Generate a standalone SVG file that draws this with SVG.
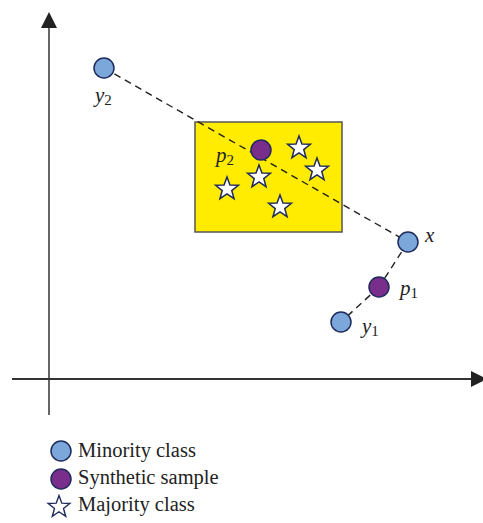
<svg xmlns="http://www.w3.org/2000/svg" width="483" height="523" viewBox="0 0 483 523">
<style>
.axis{stroke:#555;stroke-width:2;fill:none}
.dash{stroke:#222;stroke-width:1.4;stroke-dasharray:7,5;fill:none}
.min{fill:#7ba7da;stroke:#1f2b5c;stroke-width:1.5}
.syn{fill:#7a2e8c;stroke:#1f2b5c;stroke-width:1.5}
.star{fill:#fff;stroke:#1f2b5c;stroke-width:1.5;stroke-linejoin:miter}
.lbl{font-family:"Liberation Serif",serif;font-style:italic;font-size:21px;fill:#222}
.sub{font-style:normal;font-size:15px}
.leg{font-family:"Liberation Serif",serif;font-size:20.5px;fill:#222}
</style>
<defs>
<path id="st" d="M0,-12 L2.94,-4.05 L11.41,-3.71 L4.76,1.55 L7.05,9.71 L0,5 L-7.05,9.71 L-4.76,1.55 L-11.41,-3.71 L-2.94,-4.05 Z"/>
</defs>
<g id="axes">
<line class="axis" x1="49" y1="415" x2="49" y2="26" style="stroke:#666"/>
<polygon points="49,12 41,28 57,28" fill="#222"/>
<line class="axis" x1="12" y1="379" x2="472" y2="379" style="stroke:#333"/>
<polygon points="487,379 471,371 471,387" fill="#222"/>
</g>
<g id="region">
<rect x="195" y="122" width="147" height="110" fill="#ffec00" stroke="#555" stroke-width="1.5"/>
</g>
<g id="connectors">
<line class="dash" x1="104" y1="68" x2="408" y2="242"/>
<line class="dash" x1="408" y1="242" x2="379" y2="287"/>
<line class="dash" x1="379" y1="287" x2="341" y2="322"/>
</g>
<g id="stars">
<use href="#st" class="star" x="299" y="148"/>
<use href="#st" class="star" x="317" y="170"/>
<use href="#st" class="star" x="259" y="177"/>
<use href="#st" class="star" x="227" y="189"/>
<use href="#st" class="star" x="280" y="207"/>
</g>
<g id="y2"><circle class="min" cx="104" cy="68" r="10"/><text class="lbl" x="95" y="102">y<tspan class="sub" dy="3">2</tspan></text></g>
<g id="p2"><circle class="syn" cx="261" cy="150" r="10"/><text class="lbl" x="216" y="162">p<tspan class="sub" dy="3">2</tspan></text></g>
<g id="x"><circle class="min" cx="408" cy="242" r="10"/><text class="lbl" x="425" y="242">x</text></g>
<g id="p1"><circle class="syn" cx="379" cy="287" r="10"/><text class="lbl" x="400" y="295">p<tspan class="sub" dy="3">1</tspan></text></g>
<g id="y1"><circle class="min" cx="341" cy="322" r="10"/><text class="lbl" x="362" y="333">y<tspan class="sub" dy="3">1</tspan></text></g>
<g id="legend">
<circle class="min" cx="61" cy="451" r="10"/>
<text class="leg" x="78" y="457">Minority class</text>
<circle class="syn" cx="61" cy="479" r="10"/>
<text class="leg" x="78" y="484">Synthetic sample</text>
<use href="#st" class="star" transform="translate(59,507) scale(0.95)"/>
<text class="leg" x="78" y="511">Majority class</text>
</g>
</svg>
